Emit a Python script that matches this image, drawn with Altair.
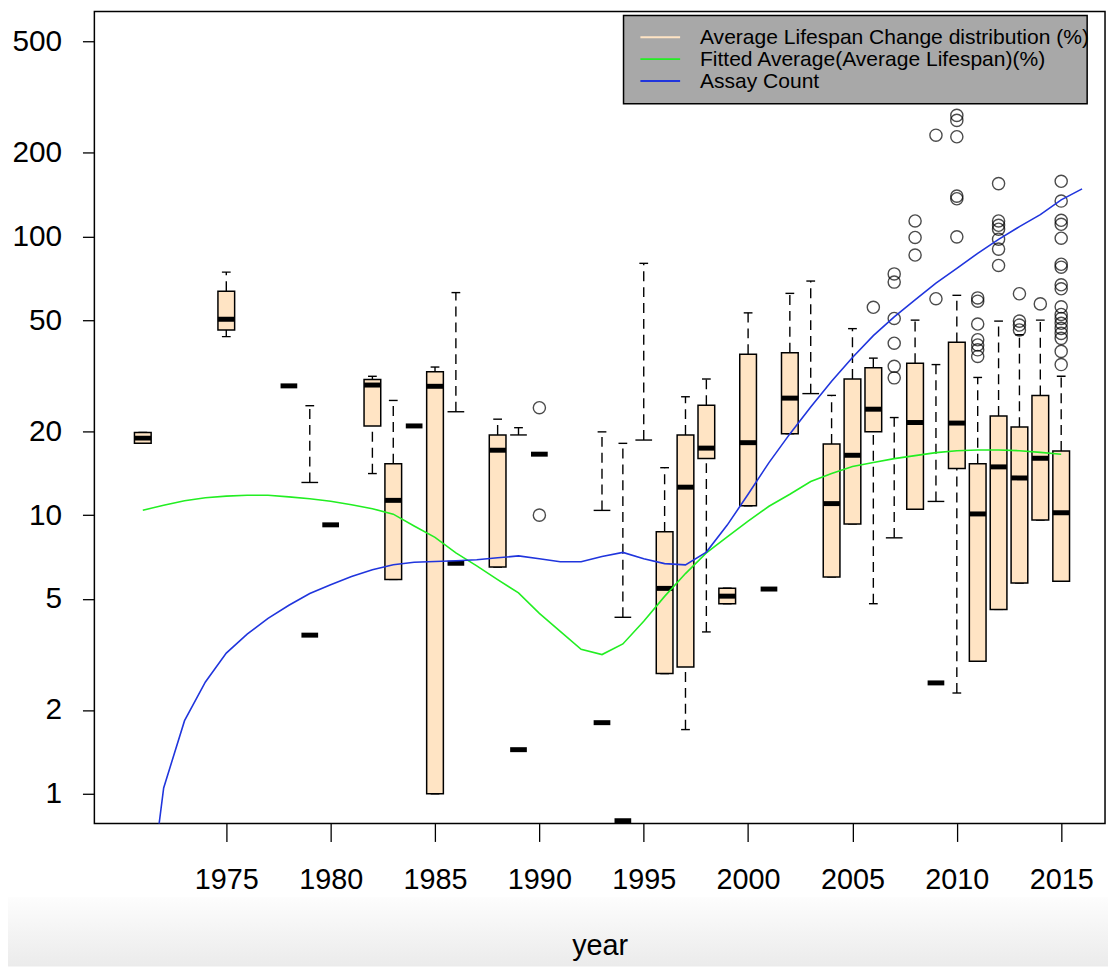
import altair as alt
import pandas as pd

# ---------------- data ----------------
box_year = [1971, 1975, 1982, 1983, 1985, 1988, 1996, 1997, 1998, 1999, 2000,
            2002, 2004, 2005, 2006, 2008, 2010, 2011, 2012, 2013, 2014, 2015]
box_q1 = [18.1, 46.2, 20.9, 5.88, 1.0, 6.51, 2.70, 2.85, 15.97, 4.81, 10.8,
          19.6, 6.0, 9.3, 19.9, 10.5, 14.7, 2.99, 4.59, 5.71, 9.6, 5.79]
box_med = [18.9, 50.5, 29.3, 11.3, 29.0, 17.1, 5.46, 12.6, 17.4, 5.12, 18.2,
           26.3, 11.0, 16.4, 24.0, 21.5, 21.4, 10.1, 14.9, 13.6, 16.0, 10.2]
box_q3 = [19.8, 63.6, 30.7, 15.3, 32.7, 19.4, 8.71, 19.4, 24.8, 5.47, 37.8,
          38.3, 18.0, 30.8, 33.8, 35.1, 41.7, 15.3, 22.7, 20.7, 26.9, 17.0]
box_lo = [18.1, 43.7, 14.1, 5.88, 1.0, 6.51, 2.70, 1.70, 3.81, 4.81, 10.8,
          19.6, 6.0, 9.3, 4.81, 10.5, 2.30, 2.99, 4.59, 5.71, 9.6, 5.79]
box_hi = [19.8, 74.5, 31.5, 25.8, 34.0, 22.1, 14.8, 26.6, 30.8, 5.47, 53.2,
          62.5, 26.9, 46.7, 36.6, 50.1, 61.5, 31.2, 49.7, 44.4, 50.1, 31.5]

# groups whose box collapsed: a hinge line and a capped whisker above it
open_year = [1979, 1986, 1989, 1993, 1994, 1995, 2003, 2007, 2009]
open_hinge = [13.1, 23.5, 19.4, 10.4, 4.30, 18.6, 27.3, 8.29, 11.2]
open_top = [24.7, 62.9, 20.6, 19.9, 18.1, 80.1, 69.2, 22.4, 34.7]

# single-value groups (drawn as a thick median bar only)
single_year = [1978, 1979, 1980, 1984, 1986, 1989, 1990, 1993, 1994, 2001, 2009]
single_val = [29.1, 3.71, 9.23, 20.9, 6.72, 1.44, 16.55, 1.80, 0.80, 5.43, 2.50]

# outliers
out_groups = {
    1990: [24.3, 10.0],
    2006: [55.7],
    2007: [73.4, 68.6, 50.8, 41.4, 34.2, 31.1],
    2008: [113.7, 99.2, 85.8],
    2009: [231, 59.8],
    2010: [272, 261, 228, 139.6, 136.6, 99.7],
    2011: [60.2, 58.6, 48.5, 42.6, 40.8, 39.2, 37.1],
    2012: [154.8, 113.7, 109.7, 106.2, 97.8, 90.1, 78.7],
    2013: [62.3, 49.7, 48.1, 46.2],
    2014: [57.3],
    2015: [157.8, 134, 114.3, 110.6, 98.6, 79.5, 77.6, 67.1, 64.9, 55.9, 52.5,
           50.8, 48.8, 46.8, 44.9, 43.1, 38.7, 34.7],
}

blue_year = list(range(1971, 2017))
blue_val = [0.27, 1.05, 1.83, 2.52, 3.2, 3.74, 4.26, 4.75, 5.23, 5.63, 6.02,
            6.37, 6.64, 6.78, 6.82, 6.86, 6.92, 7.03, 7.14, 6.97, 6.80, 6.80,
            7.10, 7.35, 6.97, 6.70, 6.63, 7.37, 9.21, 11.88, 15.44, 19.57,
            24.43, 30.22, 36.8, 44.07, 51.5, 59.2, 68.0, 76.9, 87.0, 97.6,
            108.5, 119.8, 135.4, 148.2]

green_year = list(range(1971, 2016))
green_val = [10.42, 10.85, 11.26, 11.54, 11.70, 11.78, 11.78, 11.63, 11.45,
             11.21, 10.90, 10.55, 10.08, 9.14, 8.32, 7.32, 6.58, 5.87, 5.26,
             4.44, 3.83, 3.30, 3.16, 3.45, 4.16, 5.11, 6.17, 7.32, 8.35, 9.52,
             10.76, 11.88, 13.21, 14.11, 14.94, 15.44, 15.95, 16.35, 16.76,
             17.03, 17.13, 17.13, 17.03, 16.80, 16.55]

legend_labels = ["Average Lifespan Change distribution (%)",
                 "Fitted Average(Average Lifespan)(%)",
                 "Assay Count"]
x_ticks = [1975, 1980, 1985, 1990, 1995, 2000, 2005, 2010, 2015]
y_ticks = [1, 2, 5, 10, 20, 50, 100, 200, 500]

# ---------------- styles ----------------
FONT = "Liberation Sans"
BOX_FILL = "#FFE4C4"
GREEN = "#22EE22"
BLUE = "#2035DD"
LEGEND_COLORS = [BOX_FILL, GREEN, BLUE]
HALF = 0.4     # half box width (years)
CAP = 0.21     # half staple width (years)

df_box = pd.DataFrame(dict(year=box_year, q1=box_q1, med=box_med, q3=box_q3,
                           lo=box_lo, hi=box_hi))
df_open = pd.DataFrame(dict(year=open_year, hinge=open_hinge, top=open_top))
df_single = pd.DataFrame(dict(year=single_year, val=single_val))
df_out = pd.DataFrame([(y, v) for y, vs in out_groups.items() for v in vs],
                      columns=["year", "val"])
df_blue = pd.DataFrame(dict(year=blue_year, val=blue_val))
df_green = pd.DataFrame(dict(year=green_year, val=green_val))

xs = alt.Scale(domain=[1968.68, 2017.1], nice=False, zero=False)
ys = alt.Scale(type="log", domain=[0.782, 642], nice=False)

xaxis = alt.Axis(values=x_ticks, format="d", labelFontSize=29, labelFont=FONT,
                 labelColor="black", tickColor="black", tickSize=18,
                 tickWidth=1.3, labelPadding=24, domain=False, grid=False,
                 title="year", titleFont=FONT, titleFontSize=29,
                 titleFontWeight="normal", titleColor="black",
                 titleBaseline="alphabetic", titleY=132, labelFlush=False,
                 zindex=1)
yaxis = alt.Axis(values=y_ticks, format="d", labelFontSize=30, labelFont=FONT,
                 labelColor="black", tickColor="black", tickSize=12,
                 tickWidth=1.3, labelPadding=21, domain=False, grid=False,
                 title=None, labelFlush=False, zindex=1)


def X(field):
    return alt.X(field, type="quantitative", scale=xs, axis=xaxis)


def Y(field):
    return alt.Y(field, type="quantitative", scale=ys, axis=yaxis)


def with_x(chart):
    return chart.transform_calculate(
        xl=f"datum.year - {HALF}", xr=f"datum.year + {HALF}",
        cl=f"datum.year - {CAP}", cr=f"datum.year + {CAP}")


DASH = [10, 6]
layers = []
one = pd.DataFrame({"k": [0]})

# light grey band at the bottom of the page (screen background)
layers.append(alt.Chart(one).mark_rect(
    clip=False,
    fill=alt.LinearGradient(gradient="linear", x1=0, y1=0, x2=0, y2=1,
                            stops=[alt.GradientStop(color="#fdfdfd", offset=0),
                                   alt.GradientStop(color="#ebebeb", offset=1)]))
    .encode(x=alt.value(-87), x2=alt.value(1021), y=alt.value(892), y2=alt.value(962)))

# whiskers of the boxes
b = with_x(alt.Chart(df_box))
layers.append(b.mark_rule(color="black", strokeWidth=1.4, strokeDash=DASH, clip=True)
              .encode(x=X("year"), y=Y("lo"), y2="q1"))
layers.append(b.mark_rule(color="black", strokeWidth=1.4, strokeDash=DASH, clip=True)
              .encode(x=X("year"), y=Y("q3"), y2="hi"))
layers.append(b.mark_rule(color="black", strokeWidth=1.4, clip=True)
              .encode(x=X("cl"), x2="cr", y=Y("lo")))
layers.append(b.mark_rule(color="black", strokeWidth=1.4, clip=True)
              .encode(x=X("cl"), x2="cr", y=Y("hi")))
# boxes
layers.append(b.mark_rect(fill=BOX_FILL, stroke="black", strokeWidth=1.5, clip=True)
              .encode(x=X("xl"), x2="xr", y=Y("q1"), y2="q3"))
layers.append(b.mark_rule(color="black", strokeWidth=5, strokeCap="butt", clip=True)
              .encode(x=X("xl"), x2="xr", y=Y("med")))

# collapsed groups
o = with_x(alt.Chart(df_open))
layers.append(o.mark_rule(color="black", strokeWidth=1.4, strokeDash=DASH, clip=True)
              .encode(x=X("year"), y=Y("hinge"), y2="top"))
layers.append(o.mark_rule(color="black", strokeWidth=1.4, clip=True)
              .encode(x=X("cl"), x2="cr", y=Y("top")))
layers.append(o.mark_rule(color="black", strokeWidth=1.4, clip=True)
              .encode(x=X("xl"), x2="xr", y=Y("hinge")))

# single values
s = with_x(alt.Chart(df_single))
layers.append(s.mark_rule(color="black", strokeWidth=5, strokeCap="butt", clip=True)
              .encode(x=X("xl"), x2="xr", y=Y("val")))

# outliers
layers.append(alt.Chart(df_out).mark_point(shape="circle", filled=False, color="black",
                                           size=150, strokeWidth=1.4, clip=True)
              .encode(x=X("year"), y=Y("val")))

# fitted lines
layers.append(alt.Chart(df_green).mark_line(color=GREEN, strokeWidth=1.6, clip=True)
              .encode(x=X("year"), y=Y("val")))
layers.append(alt.Chart(df_blue).mark_line(color=BLUE, strokeWidth=1.6, clip=True)
              .encode(x=X("year"), y=Y("val")))

# legend (drawn inside the plot, top right)
layers.append(alt.Chart(one).mark_rect(fill="#A8A8A8", stroke="black", strokeWidth=1.5)
              .encode(x=alt.value(533), x2=alt.value(1000), y=alt.value(4), y2=alt.value(93)))
for i, (lab, col) in enumerate(zip(legend_labels, LEGEND_COLORS)):
    yy = 26 + 22 * i
    layers.append(alt.Chart(one).mark_rule(color=col, strokeWidth=2)
                  .encode(x=alt.value(550), x2=alt.value(590), y=alt.value(yy)))
    layers.append(alt.Chart(one).mark_text(align="left", baseline="middle", font=FONT,
                                           fontSize=21.2, color="black")
                  .encode(x=alt.value(610), y=alt.value(yy + 1), text=alt.value(lab)))

chart = (alt.layer(*layers)
         .properties(width=1018, height=818, background="white",
                     autosize=alt.AutoSizeParams(type="none"),
                     padding={"left": 87, "top": 0, "right": 3, "bottom": 142})
         .configure_view(stroke="black", strokeWidth=1.5))

chart.save("out.html", embed_options={"renderer": "svg", "actions": False})
